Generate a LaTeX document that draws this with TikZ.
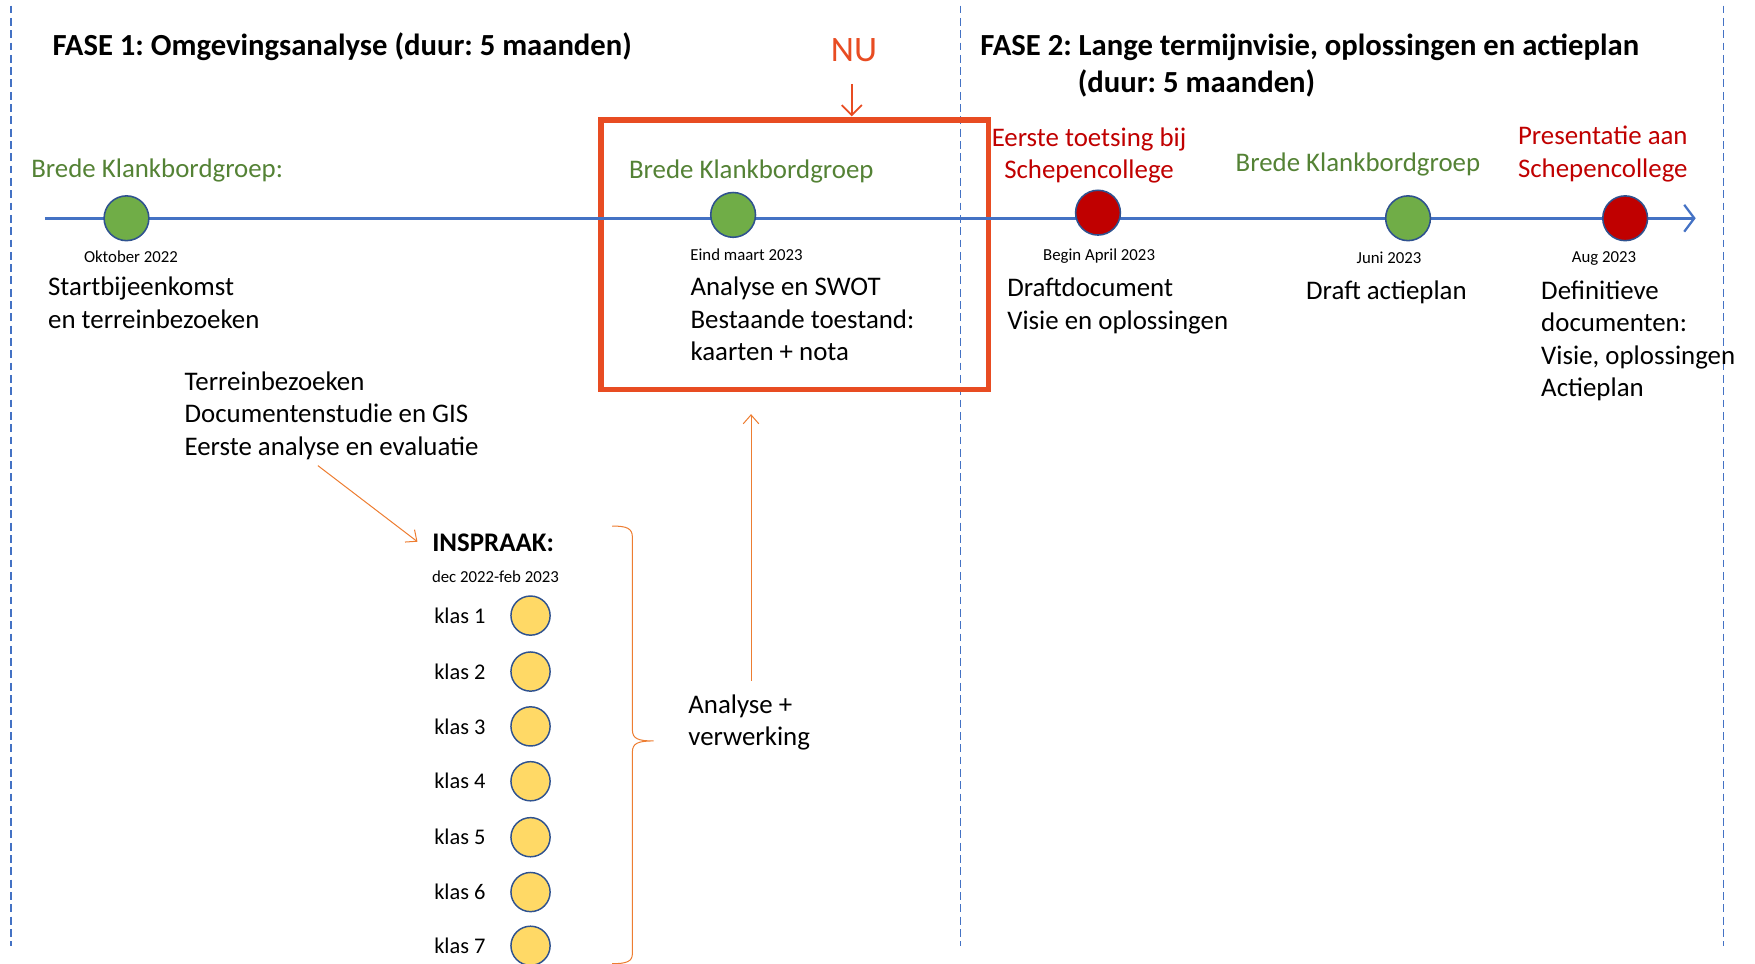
\documentclass[tikz,border=0pt]{standalone}
\usepackage{fontspec}
\setmainfont{Carlito}
\usetikzlibrary{arrows.meta}
\frenchspacing
\definecolor{lineblue}{HTML}{4472C4}
\definecolor{nured}{HTML}{E84C22}
\definecolor{kgreen}{HTML}{548235}
\definecolor{kred}{HTML}{C00000}
\definecolor{mgreen}{HTML}{70AD47}
\definecolor{mred}{HTML}{C00000}
\definecolor{rimblue}{HTML}{2F528F}
\definecolor{kyellow}{HTML}{FFD966}
\definecolor{thinorange}{HTML}{ED7D31}
\tikzset{
  txt/.style={inner sep=0pt, outer sep=0pt, font=\fontsize{24}{29}\selectfont, align=left},
  ttl/.style={inner sep=0pt, outer sep=0pt, font=\bfseries\fontsize{27.4}{32}\selectfont},
  small/.style={inner sep=0pt, outer sep=0pt, font=\fontsize{15}{18}\selectfont},
  klas/.style={inner sep=0pt, outer sep=0pt, font=\fontsize{20}{24}\selectfont, anchor=west},
  grn/.style={txt, text=kgreen},
  rd/.style={txt, text=kred, align=center},
  milestone/.style={circle, draw=rimblue, line width=1.4pt, minimum size=40pt, inner sep=0pt},
  dot/.style={circle, draw=rimblue, line width=1.3pt, fill=kyellow, minimum size=35pt, inner sep=0pt},
  phase/.style={draw=lineblue, line width=1.3pt, dash pattern=on 7pt off 4pt},
  thin/.style={draw=thinorange, line width=0.9pt},
  thinarrow/.style={thin, -{Straight Barb[length=8pt, width=14pt]}},
}
\begin{document}
\begin{tikzpicture}[x=1pt, y=-1pt]
\useasboundingbox (0,0) rectangle (1568,861);

% phase separators
\coordinate (d1t) at (10,5);   \coordinate (d1b) at (10,845);
\coordinate (d2t) at (858,5);  \coordinate (d2b) at (858,845);
\coordinate (d3t) at (1540,5); \coordinate (d3b) at (1540,845);
\draw[phase] (d1t) -- (d1b);
\draw[phase] (d2t) -- (d2b);
\draw[phase] (d3t) -- (d3b);

% titles
\node[ttl, anchor=west] (t1) at (47,41.5) {FASE 1: Omgevingsanalyse (duur: 5 maanden)};
\node[ttl, anchor=west] (t2a) at (876,42.5) {FASE 2: Lange termijnvisie, oplossingen en actieplan};
\node[ttl, anchor=west] (t2b) at (963,74.5) {(duur: 5 maanden)};

% NU marker and box
\node[inner sep=0pt, font=\fontsize{32}{36}\selectfont, text=nured] (nu) at (763,45) {NU};
\node[draw=nured, line width=5pt, minimum width=346pt, minimum height=241pt, inner sep=0pt] (box) at (710,227.5) {};
\coordinate (nus) at (761,75);
\coordinate (nue) at (761,104);
\draw[draw=nured, line width=1.6pt, -{Straight Barb[length=9pt, width=18pt]}] (nus) -- (nue);

% timeline
\coordinate (tl0) at (40,195);
\coordinate (tl1) at (1515,195);
\draw[draw=lineblue, line width=2.5pt, -{Straight Barb[length=9pt, width=24pt, line width=2pt]}] (tl0) -- (tl1);

% milestones
\node[milestone, fill=mgreen] (m1) at (113,195) {};
\node[milestone, fill=mgreen] (m2) at (655,192) {};
\node[milestone, fill=mred]   (m3) at (981,190) {};
\node[milestone, fill=mgreen] (m4) at (1258,195) {};
\node[milestone, fill=mred]   (m5) at (1452,195) {};

% labels above the timeline
\node[grn, anchor=west] (g1) at (28,152) {Brede Klankbordgroep:};
\node[grn, anchor=west] (g2) at (562,153) {Brede Klankbordgroep};
\node[rd] (r1) at (973,139) {Eerste toetsing bij\\Schepencollege};
\node[grn, anchor=west] (g3) at (1104,147) {Brede Klankbordgroep};
\node[rd] (r2) at (1432,137.5) {Presentatie aan\\Schepencollege};

% dates
\node[small] (d1) at (117,229) {Oktober 2022};
\node[small] (d2) at (667,228) {Eind maart 2023};
\node[small] (d3) at (982,229) {Begin April 2023};
\node[small] (d4) at (1241,230) {Juni 2023};
\node[small] (d5) at (1433,231) {Aug 2023};

% descriptions
\node[txt, anchor=west] (s1) at (43,270.5) {Startbijeenkomst\\en terreinbezoeken};
\node[txt, anchor=west] (s2) at (617,285) {Analyse en SWOT\\Bestaande toestand:\\kaarten + nota};
\node[txt, anchor=west] (s3) at (900,273.5) {Draftdocument\\Visie en oplossingen};
\node[txt, anchor=west] (s4) at (1167,261) {Draft actieplan};
\node[txt, anchor=west] (s5) at (1377,304.5) {Definitieve\\documenten:\\Visie, oplossingen\\Actieplan};
\node[txt, anchor=west] (s6) at (165,371.5) {Terreinbezoeken\\Documentenstudie en GIS\\Eerste analyse en evaluatie};

% inspraak
\node[inner sep=0pt, font=\bfseries\fontsize{24}{29}\selectfont, anchor=west] (insp) at (386,485) {INSPRAAK:};
\node[small, anchor=west] (ip) at (386,515) {dec 2022-feb 2023};
\foreach \i/\y in {1/550,2/600,3/649,4/698,5/748,6/797,7/845}{
  \node[klas] (k\i) at (388,\y) {klas \i};
  \node[dot] (c\i) at (474,\y) {};
}

% connectors
\coordinate (a1s) at (284,416);
\coordinate (a1e) at (373,484);
\draw[thinarrow] (a1s) -- (a1e);
\coordinate (a2s) at (671,608);
\coordinate (a2e) at (671,370);
\draw[thinarrow] (a2s) -- (a2e);

% brace
\coordinate (bt) at (547,470);
\coordinate (btip) at (584,662);
\coordinate (bb) at (547,861);
\draw[thin] (bt) .. controls (560,470) and (565,472) .. (565,480)
  -- (565,652) .. controls (565,660) and (570,662) .. (btip)
  .. controls (570,662) and (565,664) .. (565,672)
  -- (565,852) .. controls (565,859) and (560,861) .. (bb);

\node[txt, anchor=west] (av) at (615,645.5) {Analyse +\\verwerking};
\end{tikzpicture}
\end{document}
